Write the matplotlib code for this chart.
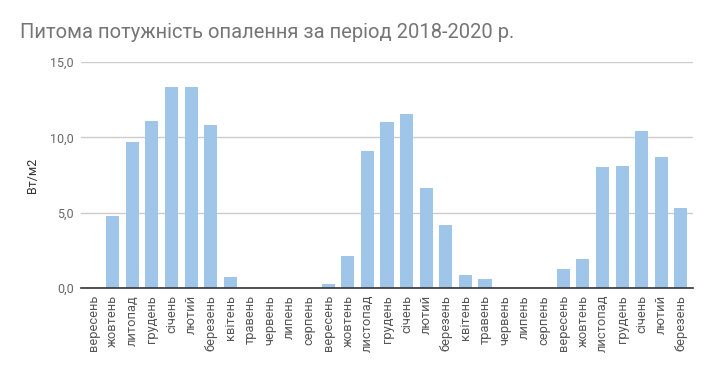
import matplotlib
matplotlib.use("Agg")
import matplotlib.pyplot as plt

plt.rcParams['font.family'] = ['Roboto', 'DejaVu Sans']

months = ["вересень", "жовтень", "литопад", "грудень", "січень", "лютий", "березень",
          "квітень", "травень", "червень", "липень", "серпень",
          "вересень", "жовтень", "листопад", "грудень", "січень", "лютий", "березень",
          "квітень", "травень", "червень", "липень", "серпень",
          "вересень", "жовтень", "листопад", "грудень", "січень", "лютий", "березень"]
values = [0, 4.8, 9.7, 11.08, 13.32, 13.32, 10.8, 0.72, 0, 0, 0, 0,
          0.26, 2.1, 9.07, 11.0, 11.55, 6.64, 4.18, 0.85, 0.6, 0, 0, 0,
          1.25, 1.92, 8.0, 8.07, 10.42, 8.67, 5.29]
title = "Питома потужність опалення за період 2018-2020 р."
ylabel = "Вт/м2"
yticks = [0, 5, 10, 15]
ytick_labels = ["0,0", "5,0", "10,0", "15,0"]

fig = plt.figure(figsize=(7.11, 3.71), dpi=100)
ax = fig.add_axes([81/711, 1 - 288/371, 612/711, 226/371])

x = list(range(len(months)))
ax.bar(x, values, width=0.67, color="#9fc5e8", zorder=3)

ax.set_xlim(-0.62, len(months) - 0.38)
ax.set_ylim(0, 15)
ax.set_yticks(yticks)
ax.set_yticklabels(ytick_labels, fontsize=9, color="#666666")
ax.set_xticks(x)
ax.set_xticklabels(months, rotation=90, fontsize=9.3, color="#555555")
ax.tick_params(axis='both', length=0, pad=5)
ax.grid(axis='y', color="#cccccc", linewidth=1, zorder=0)
for s in ["top", "right", "left"]:
    ax.spines[s].set_visible(False)
ax.spines["bottom"].set_color("#333333")
ax.spines["bottom"].set_linewidth(1.2)
ax.spines["bottom"].set_zorder(4)

ax.set_ylabel(ylabel, fontsize=9, color="#333333", labelpad=8)
fig.text(20/711, 1 - 32/371, title, fontsize=14.5, color="#757575", va="center", ha="left")

fig.savefig("out.png", dpi=100, facecolor="white")
